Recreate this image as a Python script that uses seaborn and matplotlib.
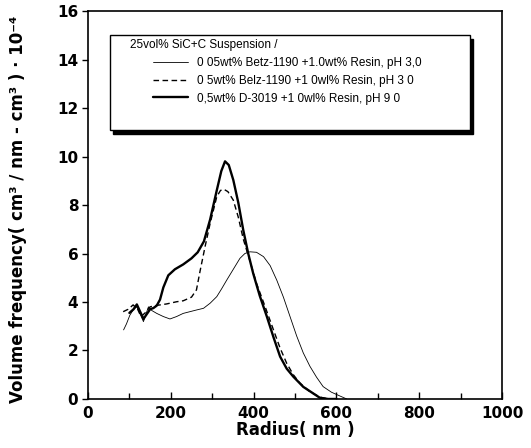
import numpy as np
import pandas as pd
import matplotlib
matplotlib.use('Agg')
import matplotlib.pyplot as plt
from matplotlib.lines import Line2D
from matplotlib.patches import Rectangle
import seaborn as sns

# Radius (nm) and volume frequency (x 1e-4)
r_thin = [86, 93, 101, 110, 118, 126, 134, 140, 146, 154, 166, 182, 198, 214, 230, 246, 262, 279,
          295, 311, 323, 335, 351, 367, 379, 391, 407, 424, 440, 456, 472, 488, 504, 520, 536, 552,
          568, 588, 609, 625]
v_thin = [2.85, 3.1, 3.45, 3.7, 3.8, 3.5, 3.19, 3.5, 3.8, 3.65, 3.53, 3.4, 3.3, 3.4, 3.53, 3.6, 3.67,
          3.74, 3.95, 4.22, 4.55, 4.9, 5.35, 5.8, 6.0, 6.07, 6.05, 5.87, 5.5, 4.9, 4.2, 3.4, 2.6, 1.9,
          1.35, 0.9, 0.51, 0.28, 0.12, 0.0]

r_dash = [85, 97, 109, 120, 128, 138, 150, 162, 174, 190, 214, 230, 250, 262, 271, 283, 295, 311,
          320, 328, 338, 351, 363, 375, 391, 407, 428, 448, 464, 480, 496, 512, 536, 560, 580]
v_dash = [3.6, 3.7, 3.88, 3.7, 3.4, 3.55, 3.8, 3.85, 3.88, 3.92, 4.01, 4.05, 4.2, 4.5, 5.3, 6.3, 7.24,
          8.34, 8.6, 8.65, 8.55, 8.2, 7.5, 6.6, 5.7, 4.77, 3.8, 2.85, 2.1, 1.47, 1.0, 0.65, 0.3, 0.08, 0.0]

r_thick = [100, 110, 118, 126, 134, 142, 150, 158, 166, 174, 182, 194, 210, 230, 250, 265, 280, 295,
           311, 322, 331, 340, 351, 363, 375, 387, 399, 415, 432, 448, 464, 480, 496, 520, 544, 560,
           580, 600]
v_thick = [3.55, 3.7, 3.9, 3.6, 3.3, 3.5, 3.7, 3.75, 3.85, 4.1, 4.6, 5.1, 5.35, 5.55, 5.8, 6.05, 6.5,
           7.4, 8.6, 9.4, 9.8, 9.65, 9.03, 8.1, 6.97, 6.0, 5.18, 4.25, 3.4, 2.55, 1.75, 1.25, 0.92,
           0.5, 0.23, 0.05, 0.0, 0.0]

labels = ['0 05wt% Betz-1190 +1.0wt% Resin, pH 3,0',
          '0 5wt% Belz-1190 +1 0wl% Resin, pH 3 0',
          '0,5wt% D-3019 +1 0wl% Resin, pH 9 0']
legend_title = '25vol% SiC+C Suspension /'

sns.set_style('ticks')
plt.rcParams['font.family'] = ['Liberation Sans', 'DejaVu Sans']
plt.rcParams['text.color'] = 'black'
plt.rcParams['axes.labelcolor'] = 'black'
plt.rcParams['xtick.color'] = 'black'
plt.rcParams['ytick.color'] = 'black'

fig = plt.figure(figsize=(5.31, 4.48), dpi=100)
ax = fig.add_axes([0.1657, 0.1094, 0.7797, 0.866])

styles = [dict(linewidth=0.6, linestyle='-'),
          dict(linewidth=1.0, linestyle=(0, (4, 2.5))),
          dict(linewidth=1.7, linestyle='-')]
for r, v, st in zip([r_thin, r_dash, r_thick], [v_thin, v_dash, v_thick], styles):
    df = pd.DataFrame({'r': r, 'v': v})
    sns.lineplot(data=df, x='r', y='v', ax=ax, color='black', sort=False, **st)

ax.set_xlim(0, 1000)
ax.set_ylim(0, 16)
ax.set_xticks(np.arange(0, 1001, 200))
ax.set_xticks(np.arange(100, 1000, 200), minor=True)
ax.set_yticks(np.arange(0, 17, 2))
ax.tick_params(axis='x', which='major', direction='in', length=5, width=1, pad=5)
ax.tick_params(axis='x', which='minor', direction='in', length=4, width=1)
ax.tick_params(axis='y', which='major', direction='out', length=4, width=1, pad=3)
for lab in ax.get_xticklabels() + ax.get_yticklabels():
    lab.set_fontweight('bold')
    lab.set_fontfamily('DejaVu Sans')
    lab.set_fontsize(11)
    lab.set_color('black')
for s in ax.spines.values():
    s.set_linewidth(1.2)
    s.set_color('black')

ax.set_xlabel('Radius( nm )', fontsize=12, fontweight='bold', family='DejaVu Sans')
ax.set_ylabel('Volume frequency( cm³ / nm - cm³ ) · 10⁻⁴', fontsize=12, fontweight='bold',
              family='DejaVu Sans')
ax.xaxis.set_label_coords(0.5, -0.058)
ax.yaxis.set_label_coords(-0.147, 0.49)

# legend box with a solid shadow, title, then the entries
box = dict(xy=(0.0531, 0.6933), width=0.8696, height=0.2447, transform=ax.transAxes)
ax.add_patch(Rectangle((0.0531 + 0.008, 0.6933 - 0.009), 0.8696, 0.2447, transform=ax.transAxes,
                       facecolor='black', edgecolor='black', zorder=4))
ax.add_patch(Rectangle(**box, facecolor='white', edgecolor='black', linewidth=1.0, zorder=5))
ax.text(0.1014, 0.912, legend_title, transform=ax.transAxes, fontsize=8.5, va='center',
        ha='left', zorder=6)
handles = [Line2D([], [], color='black', **st) for st in styles]
leg = ax.legend(handles, labels, loc='upper left', bbox_to_anchor=(0.157, 0.882),
                frameon=False, fontsize=8.5, handlelength=3.0, handletextpad=0.75,
                labelspacing=0.5, borderpad=0, borderaxespad=0)
leg.set_zorder(7)

fig.savefig('out.png', dpi=100)
